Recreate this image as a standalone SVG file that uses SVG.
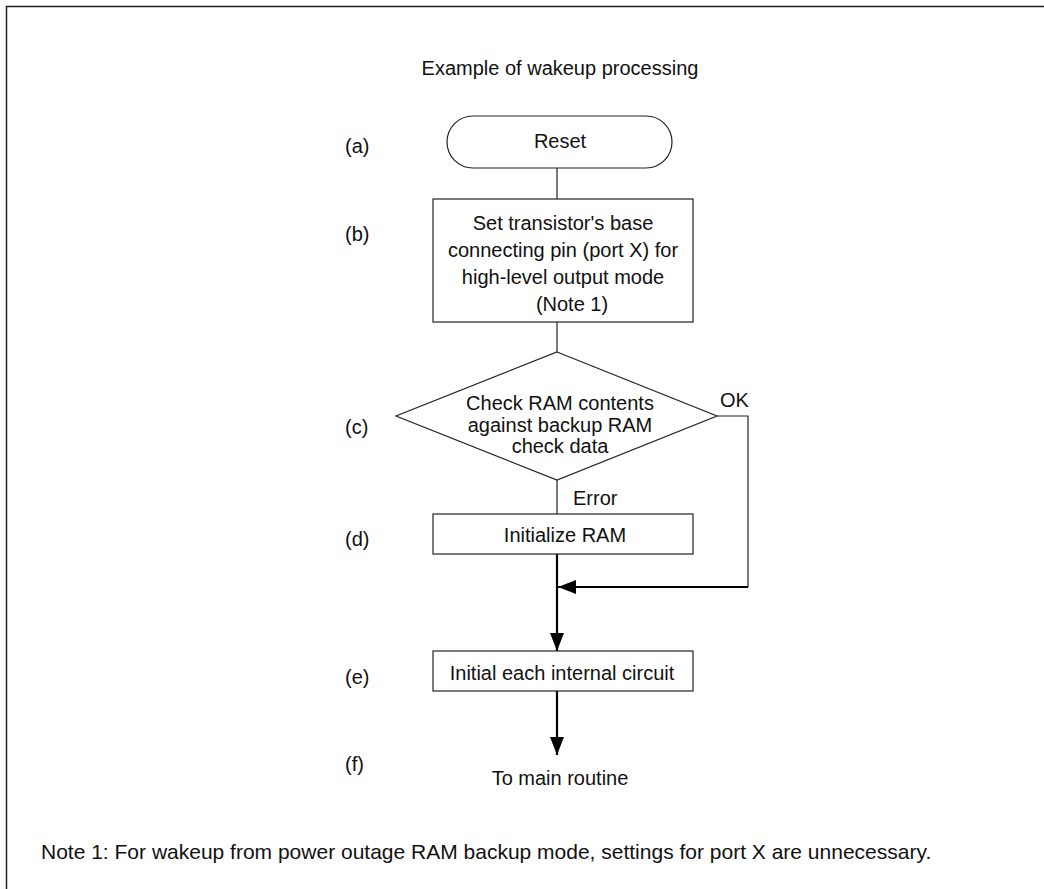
<svg xmlns="http://www.w3.org/2000/svg" width="1044" height="889" viewBox="0 0 1044 889">
<defs>
<style>
text{font-family:"Liberation Sans",Arial,sans-serif;font-size:20px;fill:#111}
.c{text-anchor:middle}
.shape{fill:#fff;stroke:#222;stroke-width:1.2}
.thin{fill:none;stroke:#222;stroke-width:1.2}
.thick{fill:none;stroke:#000;stroke-width:2.2}
</style>
<marker id="ahv" markerWidth="18" markerHeight="14" refX="18" refY="7" orient="auto" markerUnits="userSpaceOnUse">
<path d="M0,0 L18,7 L0,14 Z" fill="#000"/>
</marker>
</defs>
<rect width="1044" height="889" fill="#fff"/>
<path d="M6.5,900 V6.5 H1100" fill="none" stroke="#222" stroke-width="1.5"/>
<text class="c" x="560" y="75">Example of wakeup processing</text>
<g id="labels">
<text x="345" y="153">(a)</text>
<text x="345" y="241">(b)</text>
<text x="345" y="434">(c)</text>
<text x="345" y="546">(d)</text>
<text x="345" y="684">(e)</text>
<text x="345" y="771">(f)</text>
</g>
<g id="connectors">
<line class="thin" x1="557" y1="168" x2="557" y2="199"/>
<line class="thin" x1="557" y1="322" x2="557" y2="352"/>
<line class="thin" x1="557" y1="480" x2="557" y2="514"/>
<polyline class="thin" points="717,416 748,416 748,587"/>
<line class="thick" x1="748" y1="587" x2="558" y2="587" marker-end="url(#ahv)"/>
<line class="thick" x1="557" y1="554" x2="557" y2="651" marker-end="url(#ahv)"/>
<line class="thick" x1="557" y1="691" x2="557" y2="755" marker-end="url(#ahv)"/>
<text x="720" y="407">OK</text>
<text x="573" y="505">Error</text>
</g>
<g id="reset">
<rect class="shape" x="447" y="116" width="225" height="52" rx="26"/>
<text class="c" x="560" y="148">Reset</text>
</g>
<g id="setport">
<rect class="shape" x="433" y="199" width="260" height="123"/>
<text class="c" x="563" y="230">Set transistor's base</text>
<text class="c" x="563" y="257">connecting pin (port X) for</text>
<text class="c" x="563" y="284">high-level output mode</text>
<text class="c" x="572" y="311">(Note 1)</text>
</g>
<g id="check">
<polygon class="shape" points="557,352 717,416 557,480 396,416"/>
<text class="c" x="560" y="410">Check RAM contents</text>
<text class="c" x="560" y="432">against backup RAM</text>
<text class="c" x="560" y="453">check data</text>
</g>
<g id="initram">
<rect class="shape" x="433" y="514" width="260" height="40"/>
<text class="c" x="565" y="542">Initialize RAM</text>
</g>
<g id="initcirc">
<rect class="shape" x="433" y="651" width="260" height="40"/>
<text class="c" x="562" y="680">Initial each internal circuit</text>
</g>
<g id="main">
<text class="c" x="560" y="785">To main routine</text>
</g>
<text x="41" y="859" style="font-size:21px">Note 1: For wakeup from power outage RAM backup mode, settings for port X are unnecessary.</text>
</svg>
